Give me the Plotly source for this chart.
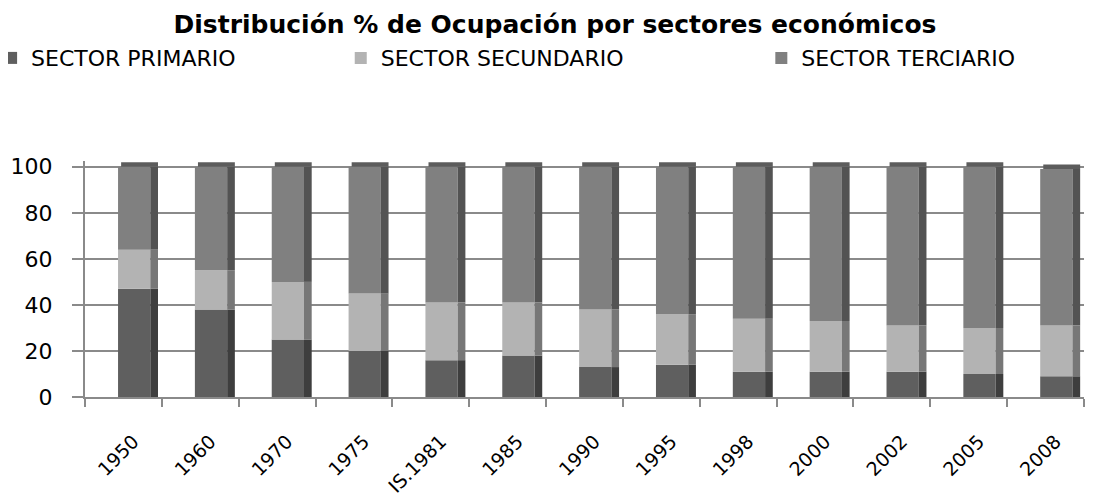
import numpy as np
import plotly.graph_objects as go

categories = ["1950", "1960", "1970", "1975", "IS.1981", "1985", "1990",
              "1995", "1998", "2000", "2002", "2005", "2008"]
primario = [47, 38, 25, 20, 16, 18, 13, 14, 11, 11, 11, 10, 9]
secundario = [17, 17, 25, 25, 25, 23, 25, 22, 23, 22, 20, 20, 22]
terciario = [36, 45, 50, 55, 59, 59, 62, 64, 66, 67, 69, 70, 68]

series = [
    ("SECTOR PRIMARIO", primario, "#5f5f5f", "#3e3e3e", "legend"),
    ("SECTOR SECUNDARIO", secundario, "#b3b3b3", "#777777", "legend2"),
    ("SECTOR TERCIARIO", terciario, "#808080", "#535353", "legend3"),
]

FRONT_OFF, FRONT_W = -0.07, 0.42
SIDE_OFF, SIDE_W = 0.35, 0.10
CAP = 2.0

fig = go.Figure()
base = np.zeros(len(categories))
for name, vals, front, side, leg in series:
    v = np.array(vals, dtype=float)
    fig.add_trace(go.Bar(x=categories, y=v, base=base, name=name, legend=leg,
                         offset=FRONT_OFF, width=FRONT_W,
                         marker=dict(color=front, line=dict(width=0)),
                         hoverinfo="y+name"))
    fig.add_trace(go.Bar(x=categories, y=v, base=base, name=name,
                         offset=SIDE_OFF, width=SIDE_W, showlegend=False,
                         marker=dict(color=side, line=dict(width=0)),
                         hoverinfo="skip"))
    base = base + v

# top cap of each column
fig.add_trace(go.Bar(x=categories, y=[CAP] * len(categories), base=base,
                     offset=FRONT_OFF + 0.04, width=FRONT_W + SIDE_W - 0.04,
                     showlegend=False, hoverinfo="skip",
                     marker=dict(color="#5c5c5c", line=dict(width=0))))

leg_font = dict(size=22, family="DejaVu Sans", color="black")
leg_common = dict(orientation="h", y=1.436, yanchor="middle", xanchor="left",
                  font=leg_font, bgcolor="rgba(0,0,0,0)")

fig.update_layout(
    width=1112, height=503,
    barmode="overlay",
    paper_bgcolor="white", plot_bgcolor="white",
    margin=dict(l=77, r=36, t=153, b=114, autoexpand=False),
    font=dict(family="DejaVu Sans", color="black"),
    title=dict(text="<b>Distribución % de Ocupación por sectores económicos</b>",
               x=(555 - 8) / 1112, xanchor="center", y=1 - 16 / 503, yanchor="middle",
               font=dict(size=25, family="DejaVu Sans", color="black")),
    legend=dict(x=-0.094, **leg_common),
    legend2=dict(x=0.256, **leg_common),
    legend3=dict(x=0.677, **leg_common),
    showlegend=True,
)
fig.update_xaxes(type="category", tickangle=-45, tickson="boundaries",
                 ticks="outside", ticklen=8, tickwidth=2, tickcolor="#8a8a8a",
                 showline=True, linecolor="#8a8a8a", linewidth=2,
                 tickfont=dict(size=19, family="DejaVu Sans", color="black"),
                 ticklabelstandoff=24, ticklabelshift=10,
                 showgrid=False, automargin=False)
fig.update_yaxes(range=[0, 102.5], tickvals=[0, 20, 40, 60, 80, 100],
                 ticks="outside", ticklen=11, tickwidth=2, tickcolor="#8a8a8a",
                 showline=True, linecolor="#8a8a8a", linewidth=2,
                 showgrid=True, gridcolor="#8a8a8a", gridwidth=2,
                 tickfont=dict(size=22, family="DejaVu Sans", color="black"),
                 ticklabelstandoff=15,
                 zeroline=False, automargin=False)

fig.write_html("out.html")
